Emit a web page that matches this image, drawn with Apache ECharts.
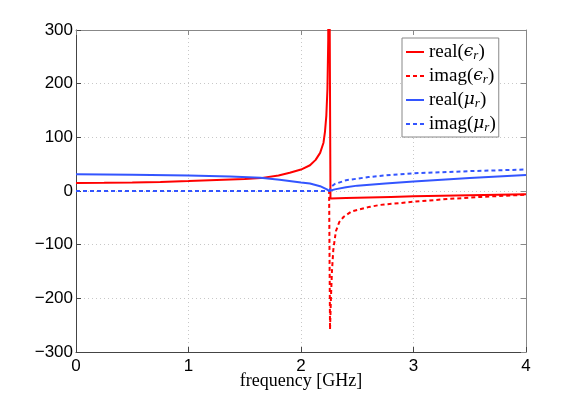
<!DOCTYPE html>
<html>
<head>
<meta charset="utf-8">
<script src="https://cdn.jsdelivr.net/npm/echarts@6/dist/echarts.min.js"></script>
<style>
  html, body { margin: 0; padding: 0; background: #fff; }
  #chart { width: 581px; height: 396px; }
</style>
</head>
<body>
<div id="chart"></div>
<script>
// values, frequency in GHz
const freqEpsRe = [0, 0.25, 0.5, 0.75, 1.0, 1.25, 1.5, 1.64, 1.8, 1.9, 2.0, 2.08, 2.13, 2.17, 2.2, 2.213, 2.225, 2.235, 2.242, 2.247,
  2.262, 2.4, 2.6, 2.8, 3.0, 3.25, 3.5, 3.75, 4.0]
const epsRe = [15, 15.2, 16, 17, 18.5, 20.5, 22.5, 24, 29, 34, 40, 48, 58, 71, 90, 110, 140, 190, 280, 700,
  -14, -13, -12, -11, -10, -9, -8, -7, -6]

const freqEpsIm = [0, 0.5, 1.0, 1.5, 2.0, 2.25, 2.258, 2.266, 2.275, 2.287, 2.31, 2.34, 2.38, 2.45, 2.6, 2.7, 3.0, 3.3, 3.6, 4.0]
const epsIm = [0, 0, 0, 0, 0, 0, -258, -200, -150, -110, -75, -58, -48, -38, -30, -26, -20, -15, -11, -7]

const freqMuRe = [0, 0.5, 1.0, 1.37, 1.64, 1.81, 2.0, 2.08, 2.17, 2.23, 2.25, 2.3, 2.4, 2.5, 2.75, 3.0, 3.25, 3.5, 3.75, 4.0]
const muRe = [31, 30.5, 29, 27, 24.5, 21, 16, 14, 9, 3, 0, 3, 7, 10, 14, 17.5, 21, 24, 27, 30]

const freqMuIm = [0, 0.5, 1.0, 1.5, 2.0, 2.25, 2.27, 2.3, 2.4, 2.6, 2.8, 3.0, 3.25, 3.5, 3.75, 4.0]
const muIm = [0, 0, 0, 0, 0, 0, 8, 13, 20, 26, 30, 33, 35, 37, 38.5, 40]

const names = ['real(eps)', 'imag(eps)', 'real(mu)', 'imag(mu)']
const legendText = {
  'real(eps)': 'real({g|ϵ}{s|r})',
  'imag(eps)': 'imag({g|ϵ}{s|r})',
  'real(mu)': 'real({g|μ}{s|r})',
  'imag(mu)': 'imag({g|μ}{s|r})'
}
const xTitle = 'frequency [GHz]'

const RED = '#ff0000'
const BLUE = '#3355ff'
const dash = [4, 3]

function pairs (xs, ys) {
  return xs.map((x, i) => [x, ys[i]])
}

function makeSeries (name, xs, ys, color, dashed) {
  return {
    name: name,
    type: 'line',
    data: pairs(xs, ys),
    showSymbol: false,
    symbol: 'none',
    animation: false,
    clip: true,
    color: color,
    lineStyle: { color: color, width: 2, type: dashed ? dash : 'solid' }
  }
}

const tickFont = { fontFamily: 'Liberation Sans, Arial, sans-serif', fontSize: 17, color: '#000' }
const axisLineStyle = { color: '#444', width: 1 }

const chart = echarts.init(document.getElementById('chart'))
chart.setOption({
  backgroundColor: '#fff',
  animation: false,
  // x axis title drawn as a title so it sits exactly under the plot
  title: {
    text: xTitle,
    left: 301,
    top: 372,
    textAlign: 'center',
    padding: 0,
    textStyle: { fontFamily: 'Liberation Serif, serif', fontSize: 18, fontWeight: 'normal', color: '#000' }
  },
  grid: { left: 76, right: 55, top: 30, bottom: 44, containLabel: false, outerBoundsMode: 'none' },
  legend: {
    data: names,
    orient: 'vertical',
    left: 402,
    top: 38,
    padding: [4, 3, 3, 3],
    itemWidth: 18,
    itemHeight: 14,
    itemGap: 4,
    backgroundColor: '#fff',
    borderColor: '#888',
    borderWidth: 1,
    itemStyle: { opacity: 0 },
    formatter: (n) => legendText[n],
    textStyle: {
      fontFamily: 'Liberation Serif, DejaVu Serif, serif',
      fontSize: 19,
      lineHeight: 19,
      color: '#000',
      rich: {
        g: { fontFamily: 'DejaVu Serif', fontStyle: 'italic', fontSize: 17, lineHeight: 19, color: '#000' },
        s: { fontFamily: 'Liberation Serif, serif', fontStyle: 'italic', fontSize: 13, lineHeight: 19, color: '#000', padding: [7, 0, 0, 0] }
      }
    }
  },
  xAxis: [
    {
      type: 'value',
      min: 0,
      max: 4,
      interval: 1,
      axisLine: { show: true, onZero: false, lineStyle: axisLineStyle },
      axisTick: { show: true, inside: true, length: 5, lineStyle: axisLineStyle },
      axisLabel: Object.assign({ margin: 6, formatter: (v) => String(v) }, tickFont),
      splitLine: { show: true, lineStyle: { color: '#c8c8c8', type: [1, 3] } }
    },
    {
      type: 'value',
      position: 'top',
      min: 0,
      max: 4,
      interval: 1,
      axisLine: { show: true, onZero: false, lineStyle: { color: '#888' } },
      axisTick: { show: true, inside: true, length: 5, lineStyle: { color: '#888' } },
      axisLabel: { show: false },
      splitLine: { show: false }
    }
  ],
  yAxis: [
    {
      type: 'value',
      min: -300,
      max: 300,
      interval: 100,
      axisLine: { show: true, onZero: false, lineStyle: axisLineStyle },
      axisTick: { show: true, inside: true, length: 5, lineStyle: axisLineStyle },
      axisLabel: Object.assign({ margin: 3, formatter: (v) => v < 0 ? '\u2212' + Math.abs(v) : String(v) }, tickFont),
      splitLine: { show: true, lineStyle: { color: '#c8c8c8', type: [1, 3] } }
    },
    {
      type: 'value',
      position: 'right',
      min: -300,
      max: 300,
      interval: 100,
      axisLine: { show: true, onZero: false, lineStyle: { color: '#888' } },
      axisTick: { show: true, inside: true, length: 5, lineStyle: { color: '#888' } },
      axisLabel: { show: false },
      splitLine: { show: false }
    }
  ],
  series: [
    makeSeries(names[0], freqEpsRe, epsRe, RED, false),
    makeSeries(names[1], freqEpsIm, epsIm, RED, true),
    makeSeries(names[2], freqMuRe, muRe, BLUE, false),
    makeSeries(names[3], freqMuIm, muIm, BLUE, true)
  ]
})
</script>
</body>
</html>
